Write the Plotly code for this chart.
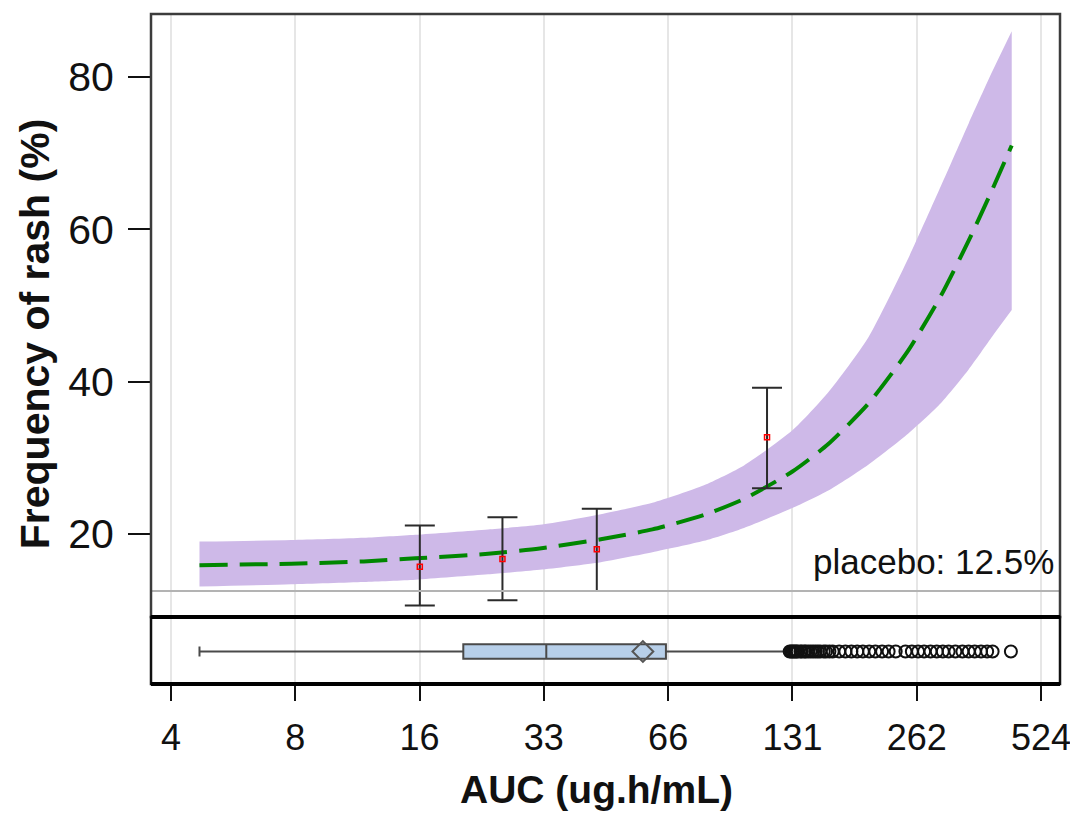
import plotly.graph_objects as go

# Exposure-response model: predicted rash frequency (%) with 95% band
auc_grid = [4.8, 8, 12, 16, 24, 32, 45, 60, 80, 100, 131, 160, 200, 250, 300, 350, 400, 445]
pred_mean = [15.9, 16.1, 16.4, 16.8, 17.4, 18.1, 19.3, 20.6, 22.5, 24.6, 28.2, 31.8, 37.1, 44.1, 51.3, 58.5, 65.3, 71.0]
pred_lower = [13.1, 13.4, 13.7, 14.0, 14.7, 15.3, 16.3, 17.6, 19.1, 20.8, 23.4, 25.7, 29.1, 33.2, 37.2, 41.6, 46.0, 49.4]
pred_upper = [19.0, 19.2, 19.5, 19.9, 20.6, 21.2, 22.6, 24.1, 26.4, 29.0, 33.6, 38.6, 45.8, 56.2, 65.7, 73.9, 80.8, 86.0]

# Observed frequency by exposure quartile (median AUC) with 95% CI
obs_auc = [16.4, 26.0, 44.0, 113.7]
obs_freq = [15.7, 16.7, 18.0, 32.7]
obs_lower = [10.6, 11.3, 12.5, 26.0]
obs_upper = [21.1, 22.2, 23.3, 39.2]

PLACEBO = 12.5

# AUC distribution summary
box_min = 4.8
box_q1 = 20.9
box_median = 33.2
box_mean = 56.9
box_q3 = 64.7
box_fence = 129.0
box_outliers = [129, 130, 131, 132, 133, 134, 135, 137, 138, 140, 141, 143, 145, 147,
                149, 151, 153, 156, 158, 161, 164, 170, 176, 182, 188, 194, 201, 208,
                216, 224, 233, 246, 255, 264, 273, 283, 293, 303, 313, 325, 338, 350,
                362, 375, 388, 400, 443]

tick_vals = [524 / 2 ** k for k in range(7, -1, -1)]
tick_text = ["4", "8", "16", "33", "66", "131", "262", "524"]

BAND = "rgb(206,185,232)"
GREEN = "rgb(0,135,0)"

fig = go.Figure()

# Confidence band: lower edge, then upper edge filled down to it
fig.add_trace(go.Scatter(
    x=auc_grid, y=pred_lower, mode="lines",
    line=dict(width=0, color=BAND, shape="spline", smoothing=0.6),
    hoverinfo="skip", xaxis="x", yaxis="y",
))
fig.add_trace(go.Scatter(
    x=auc_grid, y=pred_upper, mode="lines", fill="tonexty", fillcolor=BAND,
    line=dict(width=0, color=BAND, shape="spline", smoothing=0.6),
    hoverinfo="skip", xaxis="x", yaxis="y",
))

fig.add_trace(go.Scatter(
    x=auc_grid, y=pred_mean, mode="lines",
    line=dict(color=GREEN, width=4, dash="28px,12px", shape="spline", smoothing=0.6),
    xaxis="x", yaxis="y",
))

fig.add_trace(go.Scatter(
    x=obs_auc, y=obs_freq, mode="markers",
    marker=dict(symbol="square-open", size=5, color="red", line=dict(width=1.5, color="red")),
    error_y=dict(
        type="data", symmetric=False,
        array=[u - m for u, m in zip(obs_upper, obs_freq)],
        arrayminus=[m - l for m, l in zip(obs_freq, obs_lower)],
        color="#2b2b2b", thickness=2, width=15,
    ),
    xaxis="x", yaxis="y",
))

# Box panel
fig.add_trace(go.Box(
    y=[0], q1=[box_q1], median=[box_median], q3=[box_q3],
    lowerfence=[box_min], upperfence=[box_fence],
    orientation="h", boxpoints=False, width=0.44, whiskerwidth=0.7,
    fillcolor="rgb(183,207,233)", line=dict(color="#4a4a4a", width=2),
    xaxis="x", yaxis="y2",
))
fig.add_trace(go.Scatter(
    x=box_outliers, y=[0] * len(box_outliers), mode="markers",
    marker=dict(symbol="circle-open", size=12, color="#111", line=dict(width=2, color="#111")),
    xaxis="x", yaxis="y2",
))
fig.add_trace(go.Scatter(
    x=[box_mean], y=[0], mode="markers",
    marker=dict(symbol="diamond-open", size=16, color="#555", line=dict(width=2, color="#555")),
    xaxis="x", yaxis="y2",
))

shapes = [
    dict(type="line", xref="paper", yref="y", x0=0, x1=1, y0=PLACEBO, y1=PLACEBO,
         line=dict(color="#b3b3b3", width=2), layer="above"),
    dict(type="rect", xref="paper", yref="paper", x0=0, x1=1, y0=0.1, y1=1,
         line=dict(color="#3c3c3c", width=2.5), layer="above"),
    dict(type="rect", xref="paper", yref="paper", x0=0, x1=1, y0=0, y1=0.1,
         line=dict(color="#111", width=2.5), layer="above"),
    dict(type="line", xref="paper", yref="paper", x0=0, x1=1, y0=0.1, y1=0.1,
         line=dict(color="#000", width=4), layer="above"),
    dict(type="line", xref="paper", yref="paper", x0=0, x1=1, y0=0, y1=0,
         line=dict(color="#000", width=4), layer="above"),
]

fig.update_layout(
    width=1070, height=816,
    margin=dict(l=151, r=10, t=14, b=132, autoexpand=False),
    paper_bgcolor="white", plot_bgcolor="white",
    showlegend=False,
    font=dict(family="Liberation Sans, Arial, sans-serif", color="#111"),
    xaxis=dict(
        type="log", range=[0.5638, 2.7653], anchor="y2", automargin=False,
        tickvals=tick_vals, ticktext=tick_text,
        tickfont=dict(size=36),
        ticks="outside", ticklen=16, tickwidth=2, tickcolor="#111",
        ticklabelstandoff=6, ticklabeloverflow="allow",
        showgrid=True, gridcolor="#e6e6e6", gridwidth=2,
        zeroline=False, showline=False,
    ),
    yaxis=dict(
        domain=[0.1, 1], range=[9.1, 88.26], anchor="x", automargin=False,
        tickvals=[20, 40, 60, 80], tickfont=dict(size=41),
        ticks="outside", ticklen=22, tickwidth=2, tickcolor="#111",
        ticklabelstandoff=6,
        showgrid=False, zeroline=False, showline=False,
    ),
    yaxis2=dict(
        domain=[0, 0.097], range=[-1, 1], anchor="x", automargin=False,
        showticklabels=False, ticks="", showgrid=False, zeroline=False, showline=False,
    ),
    shapes=shapes,
    annotations=[
        dict(text="<b>Frequency of rash (%)</b>", xref="paper", yref="paper",
             x=0, y=0.522, xshift=-116, xanchor="center", yanchor="middle",
             textangle=-90, showarrow=False, font=dict(size=41)),
        dict(text="<b>AUC (ug.h/mL)</b>", xref="paper", yref="paper",
             x=0.49, y=0, yshift=-105, xanchor="center", yanchor="middle",
             showarrow=False, font=dict(size=39)),
        dict(text="placebo: 12.5%", xref="paper", yref="y",
             x=1, xshift=-4, y=PLACEBO, yshift=30, xanchor="right", yanchor="middle",
             showarrow=False, font=dict(size=35)),
    ],
)

fig.write_html("out.html")
